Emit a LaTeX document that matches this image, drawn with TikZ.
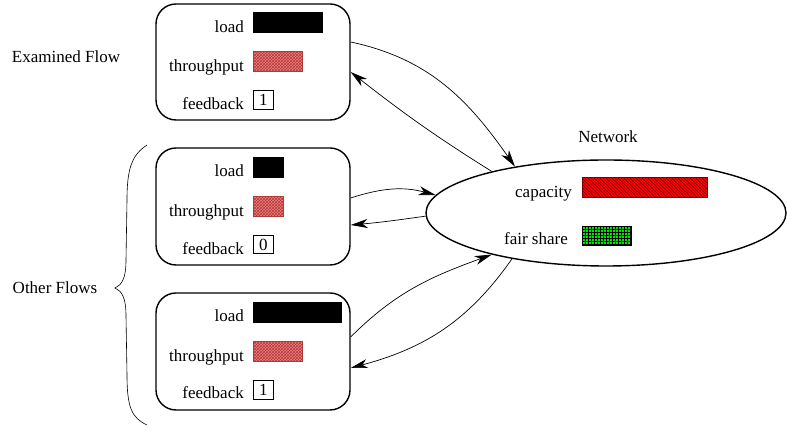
\documentclass[tikz,border=0pt]{standalone}
\usepackage{fontspec}
\setmainfont{Liberation Serif}
\usetikzlibrary{shapes.geometric,arrows.meta,patterns}
\definecolor{thr}{RGB}{250,125,125}
\definecolor{thrdark}{RGB}{170,60,60}
\definecolor{capred}{RGB}{255,0,0}
\definecolor{capdark}{RGB}{120,0,0}
\definecolor{fsgreen}{RGB}{0,230,0}
\begin{document}
\begin{tikzpicture}[x=1pt,y=1pt,
  flowbox/.style={draw,line width=1.4pt,rounded corners=20pt,minimum width=194pt,minimum height=116pt,inner sep=0},
  lbl/.style={anchor=base east,inner sep=0,font=\fontsize{17}{20}\selectfont},
  txt/.style={inner sep=0,font=\fontsize{17}{20}\selectfont},
  bar/.style={anchor=south west,inner sep=0,minimum height=20pt,line width=0.5pt},
  loadbar/.style={bar,draw=black,fill=black},
  thrbar/.style={bar,draw=thrdark,fill=thr,postaction={pattern=crosshatch,pattern color=thrdark}},
  capbar/.style={bar,draw=capdark,fill=capred,postaction={pattern=north west lines,pattern color=capdark}},
  fsbar/.style={bar,minimum height=19pt,draw=black,fill=fsgreen,postaction={pattern=grid,pattern color=black}},
  fbbox/.style={anchor=south west,draw,line width=0.6pt,minimum width=20pt,minimum height=19pt,inner sep=0,font=\fontsize{17}{20}\selectfont},
  conn/.style={line width=0.7pt,-{Stealth[length=17pt,width=9pt,inset=5pt]}},
  brace/.style={line width=0.6pt}
]
\useasboundingbox (0,0) rectangle (787,430);

% side labels
\node[txt] (examined) at (66,373) {Examined Flow};
\node[txt] (other) at (55,142) {Other Flows};
\draw[brace] (147,285) .. controls (132,275) and (127,262) .. (127,230) -- (126,170)
  .. controls (126,152) and (122,145) .. (115,142)
  .. controls (122,139) and (126,132) .. (126,114) -- (127,55)
  .. controls (127,22) and (132,12) .. (147,5);

% top flow box
\node[flowbox] (tb) at (253,368) {};
\node[lbl] (tbl) at (244,397) {load};
\node[lbl] (tbt) at (244,358) {throughput};
\node[lbl] (tbf) at (244,320) {feedback};
\node[loadbar,minimum width=69pt] (tbla) at (253,397) {};
\node[thrbar,minimum width=49pt] (tbth) at (253,358) {};
\node[fbbox] (tbfb) at (253,320) {1};

% middle flow box
\node[flowbox,minimum height=117pt] (mb) at (253,223.5) {};
\node[lbl] (mbl) at (244,253) {load};
\node[lbl] (mbt) at (244,213) {throughput};
\node[lbl] (mbf) at (244,175) {feedback};
\node[loadbar,minimum width=30pt] (mbla) at (253,252) {};
\node[thrbar,minimum width=30pt] (mbth) at (253,213) {};
\node[fbbox,minimum height=18pt] (mbfb) at (253,176) {0};

% bottom flow box
\node[flowbox,minimum height=117pt] (bb) at (253,78.5) {};
\node[lbl] (bbl) at (244,108) {load};
\node[lbl] (bbt) at (244,68) {throughput};
\node[lbl] (bbf) at (244,31) {feedback};
\node[loadbar,minimum width=88pt] (bbla) at (253,107) {};
\node[thrbar,minimum width=49pt] (bbth) at (253,68) {};
\node[fbbox] (bbfb) at (253,30) {1};

% network
\node[ellipse,draw,line width=1.4pt,minimum width=360pt,minimum height=106pt,inner sep=0] (net) at (606,217) {};
\node[txt] (netl) at (608,293) {Network};
\node[lbl] (capl) at (572,232) {capacity};
\node[lbl] (fsl) at (568,185) {fair share};
\node[capbar,minimum width=125pt] (capb) at (582,232) {};
\node[fsbar,minimum width=49pt] (fsb) at (582,184) {};

% connectors
\draw[conn] ([yshift=20pt]tb.east) to[out=-12,in=125] (net.153);
\draw[conn] (net.160) to[out=148,in=-38] ([yshift=-10pt]tb.east);
\draw[conn] ([yshift=8.5pt]mb.east) to[out=18,in=165] (net.174.6);
\draw[conn] (net.181.6) to[out=188,in=5] ([yshift=-18.5pt]mb.east);
\draw[conn] ([yshift=14.5pt]bb.east) to[out=45,in=200] (net.200);
\draw[conn] (net.206.6) to[out=235,in=15] ([yshift=-16.5pt]bb.east);
\end{tikzpicture}
\end{document}
